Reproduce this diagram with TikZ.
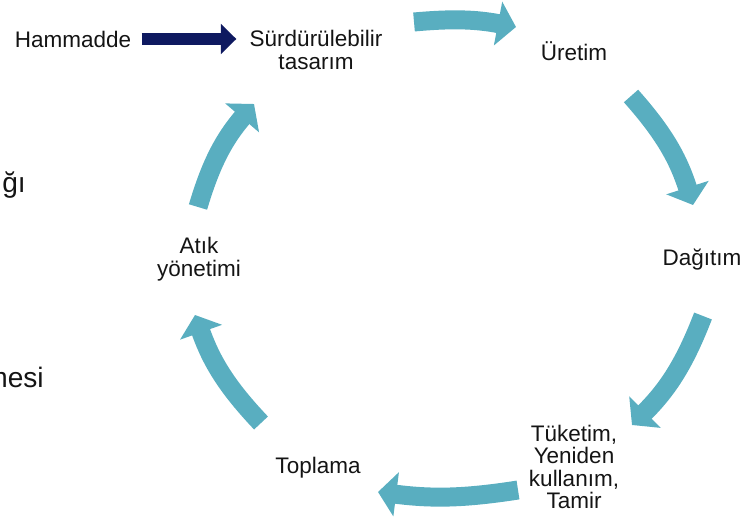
\documentclass[tikz,border=0pt]{standalone}
\usepackage{fontspec}
\setmainfont{Liberation Sans}
\usetikzlibrary{arrows.meta, positioning}
\definecolor{cycleTeal}{RGB}{89,174,192}
\definecolor{navyBlue}{RGB}{14,25,96}
\definecolor{textBlack}{gray}{0.08}

\begin{document}
\begin{tikzpicture}[x=0.025cm, y=0.025cm,
    stage/.style={align=center, text=textBlack, font=\fontsize{16}{16}\selectfont},
    fragment/.style={inner sep=0pt, text=textBlack, font=\fontsize{20}{20}\selectfont},
    cycleArrow/.style={color=cycleTeal, line width=13.5pt, -{Triangle[width=31pt, length=13pt]}},
    navyArrow/.style={color=navyBlue, line width=9pt, -{Triangle[width=21pt, length=11pt]}}
    ]
    \useasboundingbox (0,0) rectangle (754,-517);

    % stages
    \node[stage] (ham) at (73,-39) {Hammadde};
    \node[stage] (sur) at (316,-50) {Sürdürülebilir\\tasarım};
    \node[stage] (ure) at (574,-51) {Üretim};
    \node[stage] (dag) at (702,-260) {Dağıtım};
    \node[stage] (tuk) at (574,-467) {Tüketim,\\Yeniden\\kullanım,\\Tamir};
    \node[stage] (top) at (318,-468) {Toplama};
    \node[stage] (atk) at (199,-259) {Atık\\yönetimi};

    % cut off text at the left border
    \node[fragment, anchor=base west] (fragA) at (2,-193) {ğı};
    \node[fragment, anchor=base east] (fragB) at (44,-387) {mesi};

    \draw[navyArrow, shorten <=4pt, shorten >=6pt] (ham.east) -- (ham.east -| sur.west);

    % ends of the cycle arrows
    \coordinate (a1s) at (414,-22);
    \coordinate (a1e) at (516,-27);
    \coordinate (a2s) at (631,-96);
    \coordinate (a2e) at (693,-205);
    \coordinate (a3s) at (703,-316);
    \coordinate (a3e) at (632,-425);
    \coordinate (a4s) at (518,-490);
    \coordinate (a4e) at (378,-492);
    \coordinate (a5s) at (261,-423);
    \coordinate (a5e) at (195,-315);
    \coordinate (a6s) at (198,-207);
    \coordinate (a6e) at (254,-104);

    \draw[cycleArrow] (a1s) to[bend left=8] (a1e);
    \draw[cycleArrow] (a2s) to[bend left=12] (a2e);
    \draw[cycleArrow] (a3s) to[bend left=12] (a3e);
    \draw[cycleArrow] (a4s) to[bend left=8] (a4e);
    \draw[cycleArrow] (a5s) to[bend left=12] (a5e);
    \draw[cycleArrow] (a6s) to[bend left=12] (a6e);
\end{tikzpicture}
\end{document}
